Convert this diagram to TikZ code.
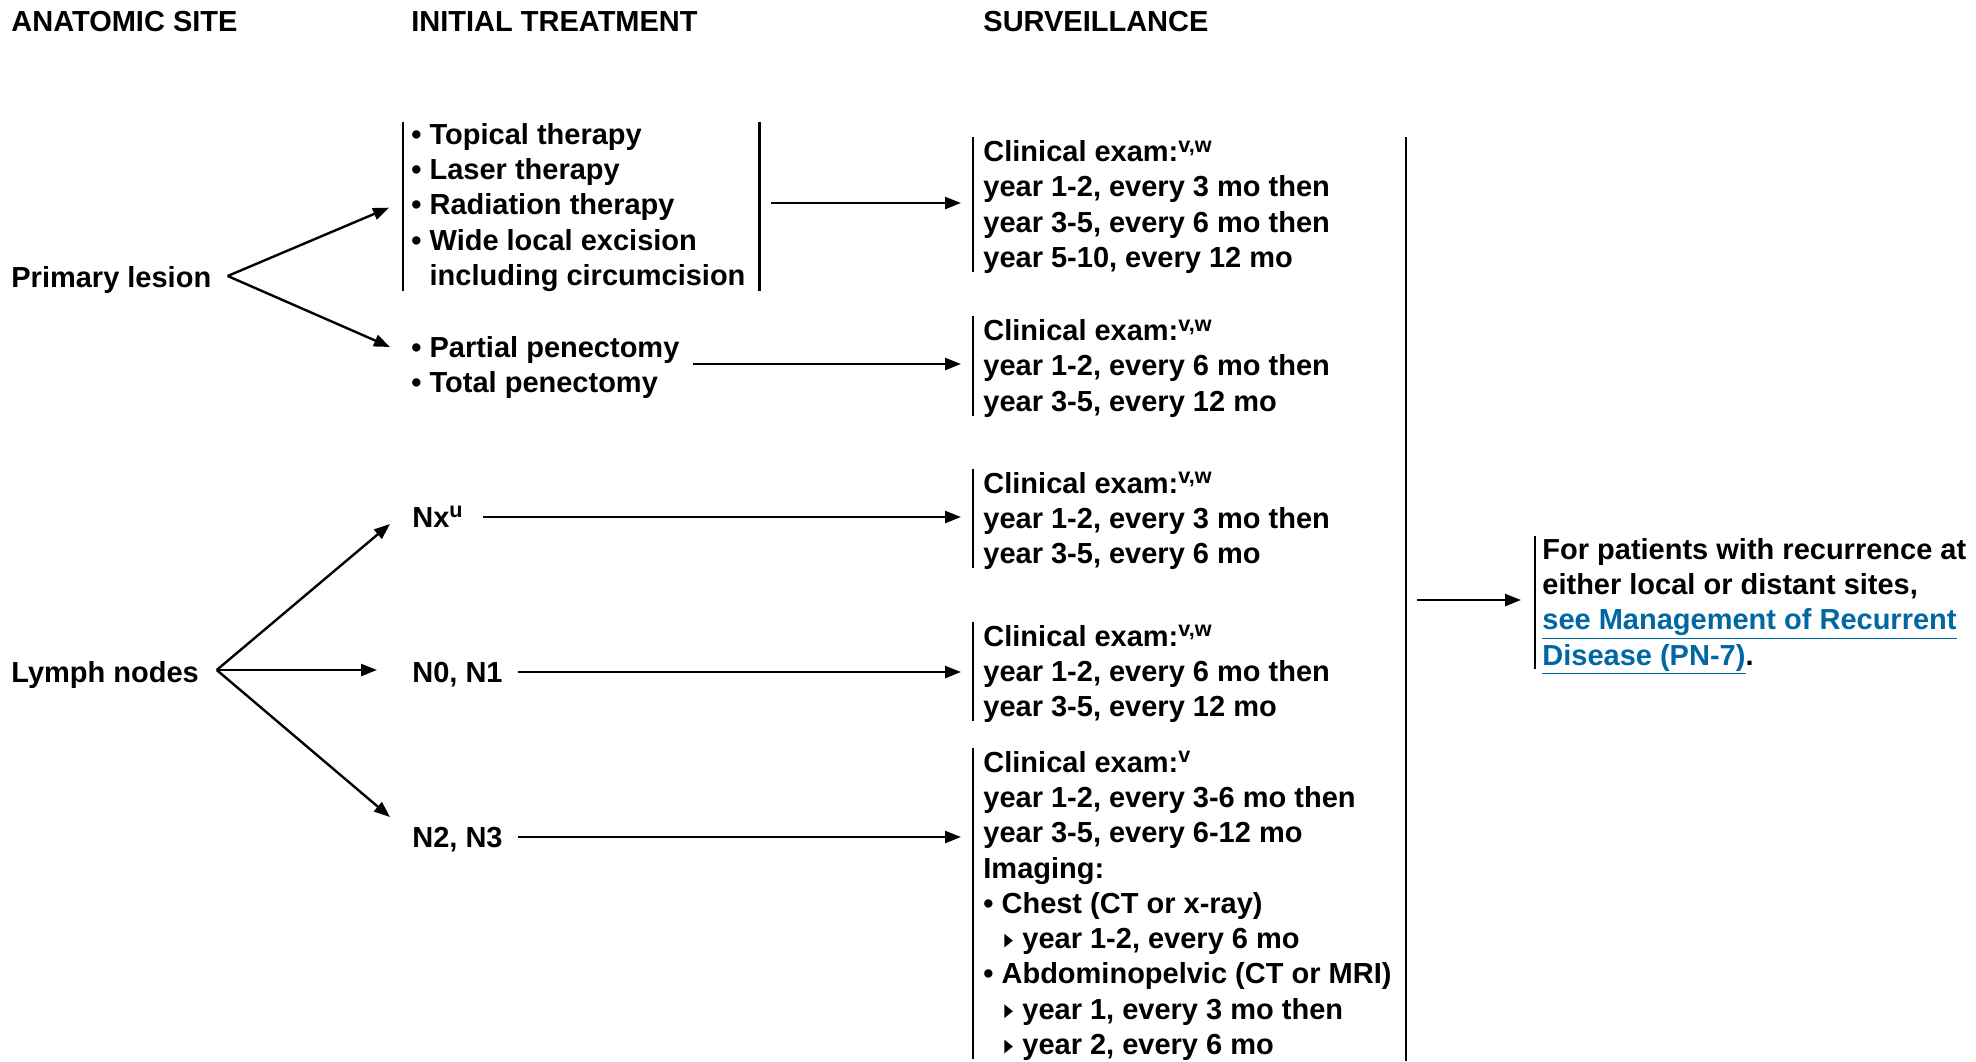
\documentclass[tikz,border=0pt]{standalone}
\usepackage{fontspec}
\setmainfont{Liberation Sans}
\usetikzlibrary{arrows.meta}
\definecolor{linkblue}{RGB}{0,103,164}
\newcommand\lnk[1]{\textcolor{linkblue}{\underline{#1}}}
\newcommand\tri{\hspace*{10.5pt}\makebox[9pt][l]{\tikz[baseline=0pt]\fill (0pt,0.6pt) -- (0pt,7.4pt) -- (4.2pt,4pt) -- cycle;}}
\newcommand\ind{\hspace*{9.1pt}}
\newcommand\supr[1]{\raisebox{4.8pt}{\fontsize{10.8pt}{11pt}\selectfont #1}}
\begin{document}
\begin{tikzpicture}[x=0.5pt,y=-0.5pt,
  txt/.style={font=\fontsize{14.5pt}{17.65pt}\selectfont\bfseries, inner sep=0pt},
  ml/.style={txt, align=left, anchor=north west},
  sl/.style={txt, anchor=base west},
  arr/.style={-{Triangle[length=8pt,width=6pt]}, line width=1.2pt},
  bar/.style={line width=1.3pt}]
\useasboundingbox (0,0) rectangle (1976,1061);

% headers
\node[sl] (h1) at (11,31) {ANATOMIC SITE};
\node[sl] (h2) at (411,31) {INITIAL TREATMENT};
\node[sl] (h3) at (983,31) {SURVEILLANCE};

% anatomic sites
\node[sl] (prim) at (11,287) {Primary lesion};
\node[sl] (lymph) at (11,682) {Lymph nodes};

% initial treatment
\node[ml] (trt1) at (411,119) {\strut• Topical therapy\\\strut• Laser therapy\\\strut• Radiation therapy\\\strut• Wide local excision\\\strut\ind including circumcision};
\node[ml] (trt2) at (411,332) {\strut• Partial penectomy\\\strut• Total penectomy};
\node[sl] (nx) at (412,527) {Nx\supr{u}};
\node[sl] (n01) at (412,682) {N0, N1};
\node[sl] (n23) at (412,847) {N2, N3};

% surveillance
\node[ml] (s1) at (983,136.5) {\strut Clinical exam:\supr{v,w}\\\strut year 1-2, every 3 mo then\\\strut year 3-5, every 6 mo then\\\strut year 5-10, every 12 mo};
\node[ml] (s2) at (983,315.5) {\strut Clinical exam:\supr{v,w}\\\strut year 1-2, every 6 mo then\\\strut year 3-5, every 12 mo};
\node[ml] (s3) at (983,468) {\strut Clinical exam:\supr{v,w}\\\strut year 1-2, every 3 mo then\\\strut year 3-5, every 6 mo};
\node[ml] (s4) at (983,621) {\strut Clinical exam:\supr{v,w}\\\strut year 1-2, every 6 mo then\\\strut year 3-5, every 12 mo};
\node[ml] (s5) at (983,747) {\strut Clinical exam:\supr{v}\\\strut year 1-2, every 3-6 mo then\\\strut year 3-5, every 6-12 mo\\\strut Imaging:\\\strut• Chest (CT or x-ray)\\\strut\tri year 1-2, every 6 mo\\\strut• Abdominopelvic (CT or MRI)\\\strut\tri year 1, every 3 mo then\\\strut\tri year 2, every 6 mo};

% recurrence
\node[ml] (rec) at (1542,534) {\strut For patients with recurrence at\\\strut either local or distant sites,\\\strut\lnk{see Management of Recurrent}\\\strut\lnk{Disease (PN-7)}.};

% bars
\draw[bar] ([shift={(-4pt,-1.5pt)}]trt1.north west) -- ([shift={(-4pt,2.65pt)}]trt1.south west);
\draw[bar] ([shift={(6.75pt,-1.5pt)}]trt1.north east) -- ([shift={(6.75pt,2.65pt)}]trt1.south east);
\foreach \n in {s1,s2,s3,s4,s5}{
  \draw[bar] ([shift={(-5pt,-0.35pt)}]\n.north west) -- ([shift={(-5pt,3.3pt)}]\n.south west);
}
\draw[bar] ([shift={(-3.5pt,-0.75pt)}]rec.north west) -- ([shift={(-3.5pt,3.6pt)}]rec.south west);
\coordinate (bbtop) at (1406,137);
\coordinate (bbbot) at (1406,1061);
\draw[bar] (bbtop) -- (bbbot);

% fan arrows
\coordinate (pa) at ([shift={(8pt,5.5pt)}]prim.base east);
\draw[arr] (pa) -- ([xshift=-11pt]trt1.west);
\draw[arr] (pa) -- ([shift={(-10.5pt,-7.5pt)}]trt2.north west);
\coordinate (la) at ([shift={(8.75pt,6pt)}]lymph.base east);
\draw[arr] (la) -- ([shift={(-11pt,1.5pt)}]nx.base west);
\draw[arr] (la) -- ([shift={(-17.5pt,6pt)}]n01.base west);
\draw[arr] (la) -- ([shift={(-11pt,15pt)}]n23.base west);

% horizontal arrows
\draw[arr] ([xshift=12.75pt]trt1.east |- 0,203) -- ([xshift=-11pt]s1.west |- 0,203);
\draw[arr] ([xshift=6.5pt]trt2.east |- 0,364) -- ([xshift=-11pt]s2.west |- 0,364);
\draw[arr] ([xshift=10pt]nx.east |- 0,517) -- ([xshift=-11pt]s3.west |- 0,517);
\draw[arr] ([xshift=7.5pt]n01.east |- 0,672) -- ([xshift=-11pt]s4.west |- 0,672);
\draw[arr] ([xshift=7.5pt]n23.east |- 0,837) -- ([xshift=-11pt]s5.west |- 0,837);
\coordinate (bbmid) at (1406,600);
\draw[arr] ([xshift=5.5pt]bbmid) -- ([xshift=-10.5pt]rec.west |- 0,600);
\end{tikzpicture}
\end{document}
